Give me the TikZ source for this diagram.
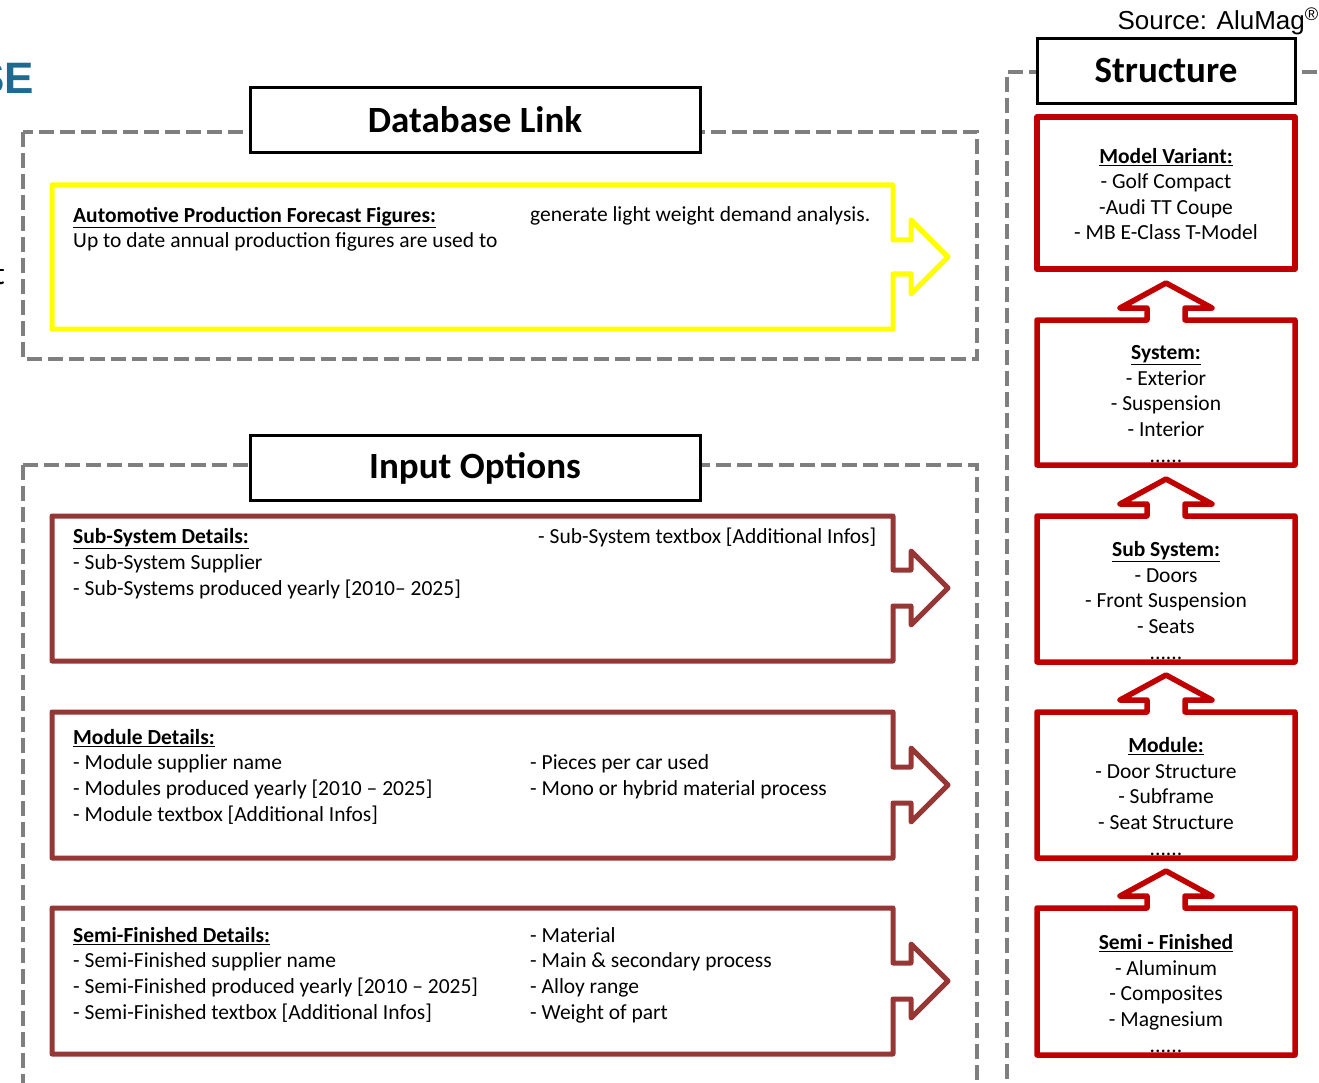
\documentclass[tikz,border=0pt]{standalone}
\usepackage{fontspec}
\setmainfont{Carlito}
\newfontfamily\arialfont{Liberation Sans}
\definecolor{dashgray}{HTML}{7F7F7F}
\definecolor{inred}{HTML}{953735}
\definecolor{strred}{HTML}{C00000}
\definecolor{ylw}{HTML}{FFFF00}
\definecolor{sebl}{HTML}{1F6A8F}
\tikzset{
  dashframe/.style={draw=dashgray, line width=4.5pt, dash pattern=on 15pt off 6pt},
  titlebox/.style={draw=black, line width=3pt, fill=white, minimum height=65pt, inner sep=0pt, font=\fontsize{37}{42}\selectfont\bfseries},
  ycallout/.style={draw=ylw, line width=5pt, line join=round},
  rcallout/.style={draw=inred, line width=5pt, line join=round},
  scallout/.style={draw=strred, line width=5.5pt, line join=round},
  bodytext/.style={inner sep=0pt, align=left, font=\fontsize{21.5}{25.6}\selectfont},
  strtext/.style={inner sep=0pt, align=center, font=\fontsize{21.5}{25.6}\selectfont},
}
\begin{document}
\begin{tikzpicture}[x=1pt,y=-1pt]
\useasboundingbox (0,0) rectangle (1319,1083);
% partial texts at edges
\node[anchor=base east, inner sep=0pt, text=sebl, font=\arialfont\fontsize{44}{50}\selectfont\bfseries] (se) at (34,94) {SE};
\node[anchor=base east, inner sep=0pt, font=\fontsize{32}{36}\selectfont] (tt) at (5,284) {t};
\node[anchor=base east, inner sep=0pt, font=\arialfont\fontsize{26}{30}\selectfont] (src) at (1319,30) {Source: AluMag\textsuperscript{\textregistered}};
% dashed frames
\draw[dashframe] (23,132) rectangle (977,359);
\draw[dashframe] (23,465) -- (977,465) -- (977,1100);
\draw[dashframe] (23,465) -- (23,1100);
\draw[dashframe] (1007,1100) -- (1007,72) -- (1340,72);
% title boxes
\node[titlebox, minimum width=450pt] (dbl) at (475,120) {Database Link};
\node[titlebox, minimum width=450pt] (inp) at (475,468) {Input Options};
\node[titlebox, minimum width=258pt] (str) at (1166,71) {Structure};
% yellow callout
\draw[ycallout] (52,185) -- (893,185) -- (893,240) -- (911,240) -- (911,220) -- (948,257) -- (911,294) -- (911,274) -- (893,274) -- (893,329) -- (52,329) -- cycle;
\node[bodytext, anchor=base west] (apf) at (73,248) {\underline{\textbf{Automotive Production Forecast Figures:}}\\Up to date annual production figures are used to};
\node[bodytext, anchor=base west] (apf2) at (530,222) {generate light weight demand analysis.};
% input callouts
\draw[rcallout] (52,516) -- (893,516) -- (893,570) -- (911,570) -- (911,551) -- (948,588) -- (911,625) -- (911,606) -- (893,606) -- (893,661) -- (52,661) -- cycle;
\draw[rcallout] (52,712) -- (893,712) -- (893,767) -- (911,767) -- (911,748) -- (948,785) -- (911,822) -- (911,803) -- (893,803) -- (893,858) -- (52,858) -- cycle;
\draw[rcallout] (52,908) -- (893,908) -- (893,963) -- (911,963) -- (911,944) -- (948,981) -- (911,1018) -- (911,999) -- (893,999) -- (893,1054) -- (52,1054) -- cycle;
\node[bodytext, anchor=base west] (ssd) at (73,595) {\underline{\textbf{Sub-System Details:}}\\- Sub-System Supplier\\- Sub-Systems produced yearly [2010-- 2025]};
\node[bodytext, anchor=base west] (ssd2) at (538,543) {- Sub-System textbox [Additional Infos]};
\node[bodytext, anchor=base west] (mdd) at (73,821) {\underline{\textbf{Module Details:}}\\- Module supplier name\\- Modules produced yearly [2010 -- 2025]\\- Module textbox [Additional Infos]};
\node[bodytext, anchor=base west] (mdd2) at (530,795) {- Pieces per car used\\- Mono or hybrid material process};
\node[bodytext, anchor=base west] (sfd) at (73,1019) {\underline{\textbf{Semi-Finished Details:}}\\- Semi-Finished supplier name\\- Semi-Finished produced yearly [2010 -- 2025]\\- Semi-Finished textbox [Additional Infos]};
\node[bodytext, anchor=base west] (sfd2) at (530,1019) {- Material\\- Main \& secondary process\\- Alloy range\\- Weight of part};
% structure boxes
\draw[scallout] (1037,117) rectangle (1295,269);
\draw[scallout] (1037,465) -- (1037,320) -- (1147,320) -- (1147,308) -- (1120,308) -- (1166,283) -- (1212,308) -- (1185,308) -- (1185,320) -- (1295,320) -- (1295,465) -- cycle;
\draw[scallout] (1037,662) -- (1037,516) -- (1147,516) -- (1147,504) -- (1120,504) -- (1166,479) -- (1212,504) -- (1185,504) -- (1185,516) -- (1295,516) -- (1295,662) -- cycle;
\draw[scallout] (1037,858) -- (1037,712) -- (1147,712) -- (1147,700) -- (1120,700) -- (1166,675) -- (1212,700) -- (1185,700) -- (1185,712) -- (1295,712) -- (1295,858) -- cycle;
\draw[scallout] (1037,1055) -- (1037,908) -- (1147,908) -- (1147,896) -- (1120,896) -- (1166,871) -- (1212,896) -- (1185,896) -- (1185,908) -- (1295,908) -- (1295,1055) -- cycle;
\node[strtext, anchor=base] (mv) at (1166,240) {\underline{\textbf{Model Variant:}}\\- Golf Compact\\-Audi TT Coupe\\- MB E-Class T-Model};
\node[strtext, anchor=base] (sy) at (1166,462) {\underline{\textbf{System:}}\\- Exterior\\- Suspension\\- Interior\\......};
\node[strtext, anchor=base] (ss) at (1166,659) {\underline{\textbf{Sub System:}}\\- Doors\\- Front Suspension\\- Seats\\......};
\node[strtext, anchor=base] (mo) at (1166,855) {\underline{\textbf{Module:}}\\- Door Structure\\- Subframe\\- Seat Structure\\......};
\node[strtext, anchor=base] (sf) at (1166,1052) {\underline{\textbf{Semi - Finished}}\\- Aluminum\\- Composites\\- Magnesium\\......};
\end{tikzpicture}
\end{document}
